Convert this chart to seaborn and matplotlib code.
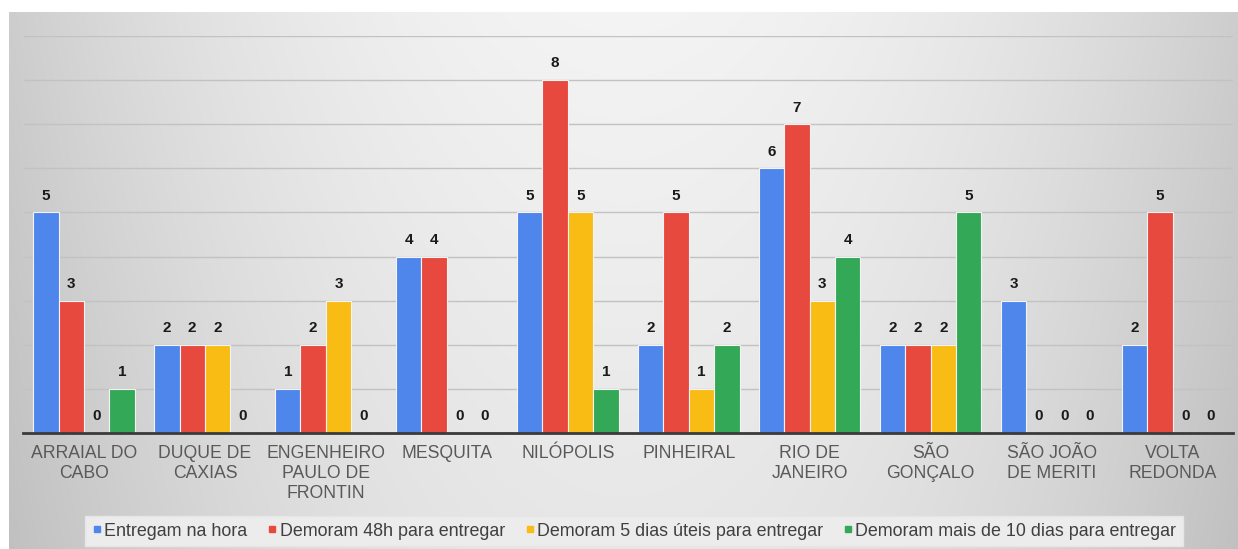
import numpy as np
import pandas as pd
import matplotlib
matplotlib.use("Agg")
import matplotlib.pyplot as plt
import seaborn as sns
from matplotlib.lines import Line2D

categories = ["ARRAIAL DO\nCABO", "DUQUE DE\nCAXIAS", "ENGENHEIRO\nPAULO DE\nFRONTIN",
              "MESQUITA", "NILÓPOLIS", "PINHEIRAL", "RIO DE\nJANEIRO",
              "SÃO\nGONÇALO", "SÃO JOÃO\nDE MERITI", "VOLTA\nREDONDA"]
series_names = ["Entregam na hora", "Demoram 48h para entregar",
                "Demoram 5 dias úteis para entregar", "Demoram mais de 10 dias para entregar"]
entregam_na_hora = [5, 2, 1, 4, 5, 2, 6, 2, 3, 2]
demoram_48h = [3, 2, 2, 4, 8, 5, 7, 2, 0, 5]
demoram_5_dias = [0, 2, 3, 0, 5, 1, 3, 2, 0, 0]
demoram_10_dias = [1, 0, 0, 0, 1, 2, 4, 5, 0, 0]
colors = ["#4F86EC", "#E8493F", "#F9BC15", "#33A856"]

sns.set_style("white")
plt.rcParams["font.family"] = ["Liberation Sans", "DejaVu Sans"]

rows = []
for name, vals in zip(series_names, [entregam_na_hora, demoram_48h, demoram_5_dias, demoram_10_dias]):
    for c, v in zip(categories, vals):
        rows.append({"cat": c, "series": name, "value": v})
df = pd.DataFrame(rows)

W, H = 1238, 549
fig = plt.figure(figsize=(W / 100, H / 100), dpi=100)
fig.patch.set_facecolor("white")

# gradient background
bg = fig.add_axes([9 / W, 0, 1 - 9 / W, 537 / H], zorder=-5)
xx = np.linspace(-1, 1, 400)
yy = np.linspace(0, 1, 200)
X, Y = np.meshgrid(xx, yy)
V = 0.955 - 0.15 * X ** 2 - 0.05 * Y
bg.imshow(np.dstack([V, V, V]), aspect="auto", extent=[0, 1, 0, 1], origin="upper")
bg.axis("off")

ax = fig.add_axes([23.5 / W, 116 / H, (1233 - 23.5) / W, (433 - 36) / H])
ax.patch.set_alpha(0)
sns.barplot(data=df, x="cat", y="value", hue="series", palette=colors, saturation=1,
            width=0.84, gap=0, ax=ax, legend=False,
            edgecolor="#f4f4f4", linewidth=0.8, zorder=3)
for cont in ax.containers:
    ax.bar_label(cont, fmt="%d", padding=7, fontsize=11, fontweight="bold", color="#1a1a1a")

ax.set_ylim(0, 9)
ax.set_xlim(-0.5, len(categories) - 0.5)
ax.set_yticks(range(1, 10))
ax.yaxis.grid(True, color="#c2c2c2", linewidth=1, zorder=0)
ax.set_axisbelow(True)
ax.tick_params(axis="y", left=False, labelleft=False)
ax.tick_params(axis="x", length=0, pad=9, labelsize=12.7, labelcolor="#595959")
for lab in ax.get_xticklabels():
    lab.set_multialignment("center")
    lab.set_linespacing(1.2)
ax.set_xlabel("")
ax.set_ylabel("")
for s in ["top", "right", "left"]:
    ax.spines[s].set_visible(False)
ax.spines["bottom"].set_color("#3a3a3a")
ax.spines["bottom"].set_linewidth(2)
ax.spines["bottom"].set_zorder(4)

handles = [Line2D([0], [0], marker="s", linestyle="none", markersize=4.5,
                  markerfacecolor=c, markeredgecolor=c) for c in colors]
leg = fig.legend(handles, series_names, loc="center", bbox_to_anchor=(634 / W, 1 - 531 / H),
                 ncol=4, frameon=True, fontsize=12.9, handlelength=0.6, handletextpad=0.1,
                 columnspacing=1.1, borderpad=0.35, borderaxespad=0, fancybox=False,
                 labelcolor="#404040")
leg.get_frame().set_facecolor("#ececec")
leg.get_frame().set_edgecolor("#e6e6e6")
leg.get_frame().set_alpha(1)

fig.savefig("out.png", dpi=100)
